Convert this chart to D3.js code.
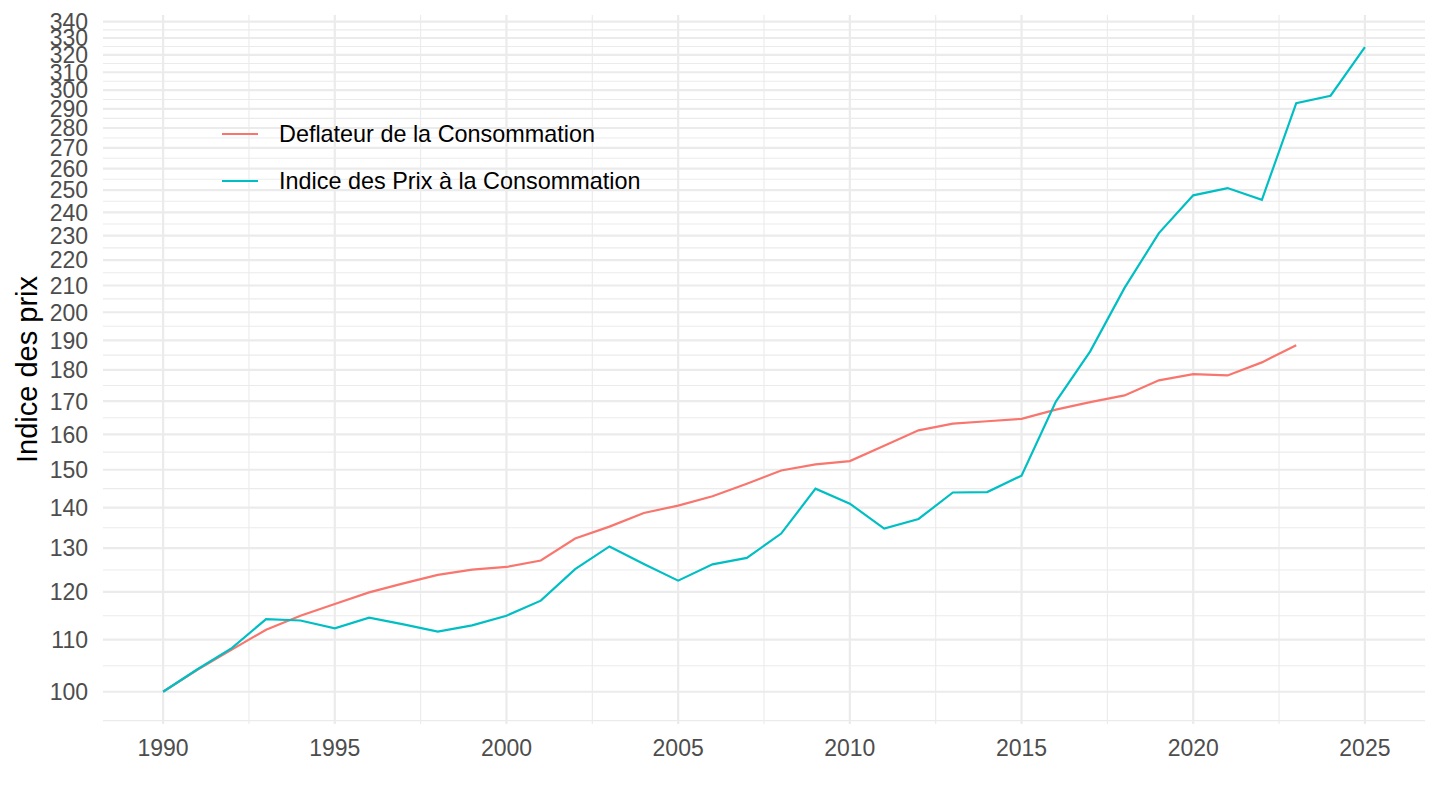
<!DOCTYPE html>
<html lang="fr">
<head>
<meta charset="UTF-8">
<title>Indice des prix</title>
<script src="https://d3js.org/d3.v7.min.js"></script>
<style>
  body { margin: 0; background: #fff; }
  text { font-family: "Liberation Sans", Arial, sans-serif; }
</style>
</head>
<body>
<script>
// data
const years = d3.range(1990, 2026);
const deflateur = [100, 104.1, 108.0, 112.0, 114.9, 117.4, 119.9, 121.9, 123.8, 125.0,
    125.6, 127.1, 132.3, 135.2, 138.6, 140.5, 142.9, 146.2, 149.8, 151.5,
    152.4, 156.7, 161.2, 163.2, 163.9, 164.6, 167.4, 169.7, 171.8, 176.6,
    178.6, 178.2, 182.5, 188.3];
const ipc = [100, 104.2, 108.3, 114.2, 113.9, 112.3, 114.5, 113.1, 111.6, 112.9,
    114.9, 118.1, 125.1, 130.4, 126.3, 122.5, 126.2, 127.7, 133.5, 144.9,
    141.0, 134.7, 137.1, 143.9, 144.0, 148.4, 169.9, 186.2, 209.1, 231.1,
    247.6, 250.9, 245.6, 293.0, 297.0, 324.5];
const seriesNames = ["Deflateur de la Consommation", "Indice des Prix à la Consommation"];
const seriesColors = ["#F8766D", "#00BFC4"];
const xTicks = [1990, 1995, 2000, 2005, 2010, 2015, 2020, 2025];
const yTicks = d3.range(100, 341, 10);

const width = 1440, height = 810;
const panel = { left: 103, right: 1425, top: 15, bottom: 724 };

const svg = d3.select("body").append("svg")
    .attr("width", width)
    .attr("height", height);

// scales with ggplot-like 5% expansion
const xMin = 1990, xMax = 2025;
const xPad = (xMax - xMin) * 0.05;
const x = d3.scaleLinear()
    .domain([xMin - xPad, xMax + xPad])
    .range([panel.left, panel.right]);

const allVals = deflateur.concat(ipc);
const lMin = Math.log(d3.min(allVals)), lMax = Math.log(d3.max(allVals));
const lPad = (lMax - lMin) * 0.05;
const y = d3.scaleLog()
    .domain([Math.exp(lMin - lPad), Math.exp(lMax + lPad)])
    .range([panel.bottom, panel.top]);

// minor breaks: midpoints in transformed space
const xMinor = d3.range(1987.5, 2030, 5).filter(v => v > x.domain()[0] && v < x.domain()[1]);
const yAll = [90].concat(yTicks, [350]);
const yMinor = [];
for (let i = 0; i < yAll.length - 1; i++) {
    const m = Math.sqrt(yAll[i] * yAll[i + 1]);
    if (m > y.domain()[0] && m < y.domain()[1]) yMinor.push(m);
}

const grid = svg.append("g");
grid.selectAll(".ymin").data(yMinor).enter().append("line")
    .attr("x1", panel.left).attr("x2", panel.right)
    .attr("y1", d => y(d)).attr("y2", d => y(d))
    .style("stroke", "#EBEBEB").style("stroke-width", 1.1);
grid.selectAll(".xmin").data(xMinor).enter().append("line")
    .attr("y1", panel.top).attr("y2", panel.bottom)
    .attr("x1", d => x(d)).attr("x2", d => x(d))
    .style("stroke", "#EBEBEB").style("stroke-width", 1.1);
grid.selectAll(".ymaj").data(yTicks).enter().append("line")
    .attr("x1", panel.left).attr("x2", panel.right)
    .attr("y1", d => y(d)).attr("y2", d => y(d))
    .style("stroke", "#EBEBEB").style("stroke-width", 2.2);
grid.selectAll(".xmaj").data(xTicks).enter().append("line")
    .attr("y1", panel.top).attr("y2", panel.bottom)
    .attr("x1", d => x(d)).attr("x2", d => x(d))
    .style("stroke", "#EBEBEB").style("stroke-width", 2.2);

// axis labels (ticks are tight on the log scale, they overlap near the top as in the original)
svg.append("g").selectAll("text").data(yTicks).enter().append("text")
    .attr("x", 88).attr("y", d => y(d))
    .attr("dy", "0.36em")
    .attr("text-anchor", "end")
    .style("font-size", "23px").style("fill", "#4D4D4D")
    .text(d => d);

svg.append("g").selectAll("text").data(xTicks).enter().append("text")
    .attr("x", d => x(d)).attr("y", 756)
    .attr("text-anchor", "middle")
    .style("font-size", "23px").style("fill", "#4D4D4D")
    .text(d => d);

svg.append("text")
    .attr("transform", `translate(37, ${(panel.top + panel.bottom) / 2}) rotate(-90)`)
    .attr("text-anchor", "middle")
    .style("font-size", "29px").style("fill", "#000")
    .text("Indice des prix");

// lines
const line = d3.line()
    .x((d, i) => x(years[i]))
    .y(d => y(d));

[deflateur, ipc].forEach((s, k) => {
    svg.append("path")
        .datum(s)
        .attr("d", line)
        .style("fill", "none")
        .style("stroke", seriesColors[k])
        .style("stroke-width", 2.2);
});

// legend
const legend = svg.append("g");
seriesNames.forEach((name, k) => {
    const ly = 134 + k * 47;
    legend.append("line")
        .attr("x1", 222).attr("x2", 258)
        .attr("y1", ly).attr("y2", ly)
        .style("stroke", seriesColors[k]).style("stroke-width", 2.2);
    legend.append("text")
        .attr("x", 279).attr("y", ly).attr("dy", "0.36em")
        .style("font-size", "23.4px").style("fill", "#000")
        .text(name);
});
</script>
</body>
</html>
